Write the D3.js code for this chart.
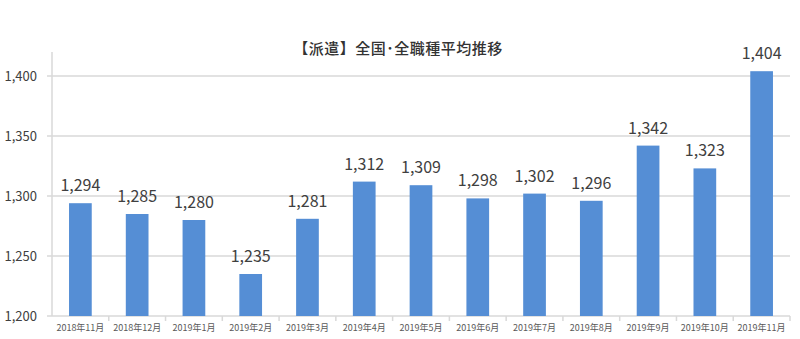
<!DOCTYPE html>
<meta charset="utf-8">
<style>
body { margin: 0; background: #fff; }
text { font-family: "Noto Sans CJK JP", "Noto Sans", sans-serif; }
</style>
<svg></svg>
<script src="https://cdn.jsdelivr.net/npm/d3@7"></script>
<script>
var months = ["2018年11月","2018年12月","2019年1月","2019年2月","2019年3月","2019年4月","2019年5月",
              "2019年6月","2019年7月","2019年8月","2019年9月","2019年10月","2019年11月"];
var values = [1294, 1285, 1280, 1235, 1281, 1312, 1309, 1298, 1302, 1296, 1342, 1323, 1404];
var yTicks = [1200, 1250, 1300, 1350, 1400];
var title = "【派遣】全国･全職種平均推移";

var width = 800, height = 339;
var margin = {top: 52, right: 10, bottom: 23, left: 52};

var svg = d3.select("svg").attr("width", width).attr("height", height);

var x = d3.scaleBand().domain(months).range([margin.left, width - margin.right]).paddingInner(0.6).paddingOuter(0.3);
var xb = d3.scaleBand().domain(months).range([margin.left, width - margin.right]);
var y = d3.scaleLinear().domain([1200, 1420]).range([height - margin.bottom, margin.top]);

// gridlines
svg.append("g").selectAll("line").data(yTicks.slice(1)).enter().append("line")
    .attr("x1", margin.left - 5).attr("x2", width - margin.right)
    .attr("y1", function(d) { return y(d); }).attr("y2", function(d) { return y(d); })
    .attr("stroke", "#d9d9d9").attr("stroke-width", 1.5);

// y axis line
svg.append("line").attr("x1", margin.left).attr("x2", margin.left)
    .attr("y1", margin.top).attr("y2", y(1200))
    .attr("stroke", "#d9d9d9").attr("stroke-width", 1.5);

// x axis line + ticks
svg.append("line").attr("x1", margin.left - 5).attr("x2", width - margin.right)
    .attr("y1", y(1200)).attr("y2", y(1200))
    .attr("stroke", "#d9d9d9").attr("stroke-width", 1.5);
svg.append("g").selectAll("line").data(months).enter().append("line")
    .attr("x1", function(d) { return xb(d) + xb.step(); })
    .attr("x2", function(d) { return xb(d) + xb.step(); })
    .attr("y1", y(1200)).attr("y2", y(1200) + 5)
    .attr("stroke", "#d9d9d9").attr("stroke-width", 1.5);

// y labels
svg.append("g").selectAll("text").data(yTicks).enter().append("text")
    .attr("x", 37).attr("y", function(d) { return y(d); })
    .attr("dy", "0.35em").attr("text-anchor", "end")
    .attr("font-size", 13).attr("fill", "#404040")
    .text(d3.format(","));

// bars
svg.append("g").selectAll("rect").data(values).enter().append("rect")
    .attr("x", function(d, i) { return x(months[i]); })
    .attr("width", x.bandwidth())
    .attr("y", function(d) { return y(d); })
    .attr("height", function(d) { return y(1200) - y(d); })
    .attr("fill", "#558ed5");

// value labels
svg.append("g").selectAll("text").data(values).enter().append("text")
    .attr("x", function(d, i) { return x(months[i]) + x.bandwidth() / 2; })
    .attr("y", function(d) { return y(d) - 12; })
    .attr("text-anchor", "middle").attr("font-size", 16).attr("fill", "#404040")
    .text(d3.format(","));

// x labels
svg.append("g").selectAll("text").data(months).enter().append("text")
    .attr("x", function(d) { return xb(d) + xb.bandwidth() / 2; })
    .attr("y", y(1200) + 15)
    .attr("text-anchor", "middle").attr("font-size", 9).attr("fill", "#595959")
    .text(function(d) { return d; });

// title
svg.append("text").attr("x", 398).attr("y", 54)
    .attr("text-anchor", "middle").attr("font-size", 15).attr("font-weight", 500)
    .attr("letter-spacing", "0.5px").attr("fill", "#333")
    .text(title);
</script>
